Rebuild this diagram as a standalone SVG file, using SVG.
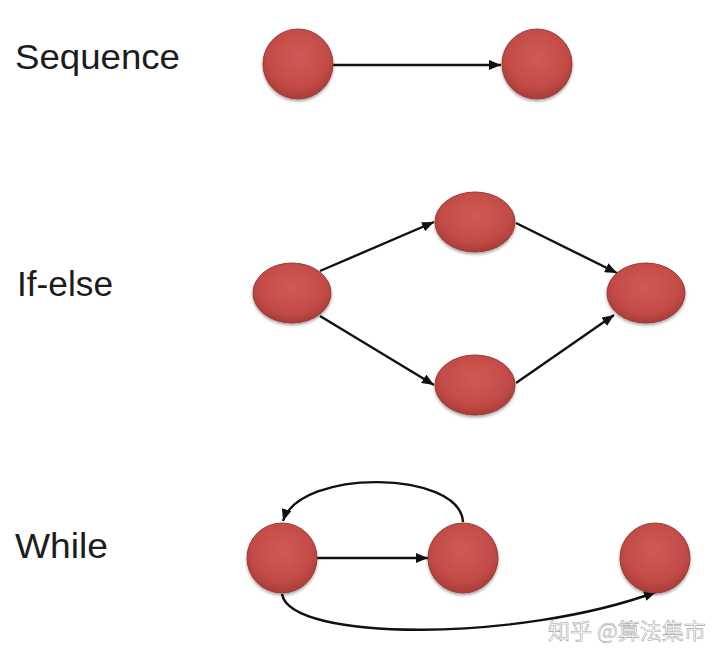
<svg xmlns="http://www.w3.org/2000/svg" width="720" height="660" viewBox="0 0 720 660">
<defs>
<radialGradient id="red" cx="50%" cy="40%" r="60%">
<stop offset="0%" stop-color="#cf5a54"/>
<stop offset="70%" stop-color="#c34c47"/>
<stop offset="100%" stop-color="#a83c38"/>
</radialGradient>
<filter id="sh" x="-20%" y="-20%" width="140%" height="150%">
<feGaussianBlur in="SourceAlpha" stdDeviation="1.5"/>
<feOffset dy="2" result="b"/>
<feComponentTransfer><feFuncA type="linear" slope="0.35"/></feComponentTransfer>
<feMerge><feMergeNode/><feMergeNode in="SourceGraphic"/></feMerge>
</filter>
<marker id="ah" viewBox="0 0 12 10" refX="12" refY="5" markerWidth="12" markerHeight="10" markerUnits="userSpaceOnUse" orient="auto">
<path d="M0,0 L12,5 L0,10 z" fill="#111"/>
</marker>
</defs>
<style>
.lbl{font-family:"Liberation Sans",Arial,sans-serif;font-size:35px;fill:#1c1c1c}
.node{fill:url(#red);stroke:#9a3a36;stroke-width:1;filter:url(#sh)}
.edge{fill:none;stroke:#111;stroke-width:2.4;marker-end:url(#ah)}
.wm{font-family:"Noto Sans CJK SC","Liberation Sans",sans-serif;font-size:22px;fill:#ffffff;stroke:#a8a8a8;stroke-width:0.6}
</style>
<rect width="720" height="660" fill="#ffffff"/>
<g id="labels">
<text class="lbl" x="15" y="69" textLength="165" lengthAdjust="spacingAndGlyphs">Sequence</text>
<text class="lbl" x="17" y="296" textLength="96" lengthAdjust="spacingAndGlyphs">If-else</text>
<text class="lbl" x="15" y="558" textLength="93" lengthAdjust="spacingAndGlyphs">While</text>
</g>
<g id="connectors">
<line class="edge" x1="333" y1="65" x2="501" y2="65"/>
<line class="edge" x1="320" y1="271" x2="434" y2="222"/>
<line class="edge" x1="516" y1="223" x2="617" y2="273"/>
<line class="edge" x1="320" y1="316" x2="434" y2="385"/>
<line class="edge" x1="516" y1="383" x2="614" y2="315"/>
<line class="edge" x1="317" y1="558" x2="428" y2="558"/>
<path class="edge" d="M463,522 C460,470 300,468 283,521"/>
<path class="edge" d="M282,594 C290,642 520,642 656,592"/>
</g>
<g id="seq-a"><circle class="node" cx="298" cy="64" r="35"/></g>
<g id="seq-b"><circle class="node" cx="537" cy="64" r="35"/></g>
<g id="if-start"><ellipse class="node" cx="292" cy="293" rx="39" ry="30"/></g>
<g id="if-top"><ellipse class="node" cx="475" cy="222" rx="40" ry="30"/></g>
<g id="if-bottom"><ellipse class="node" cx="475" cy="385" rx="40" ry="30"/></g>
<g id="if-end"><ellipse class="node" cx="646" cy="293" rx="39" ry="30"/></g>
<g id="while-a"><circle class="node" cx="282" cy="558" r="35"/></g>
<g id="while-b"><circle class="node" cx="463" cy="558" r="35"/></g>
<g id="while-c"><circle class="node" cx="655" cy="558" r="35"/></g>
<g id="watermark">
<text class="wm" x="548" y="639">知乎 @算法集市</text>
</g>
</svg>
